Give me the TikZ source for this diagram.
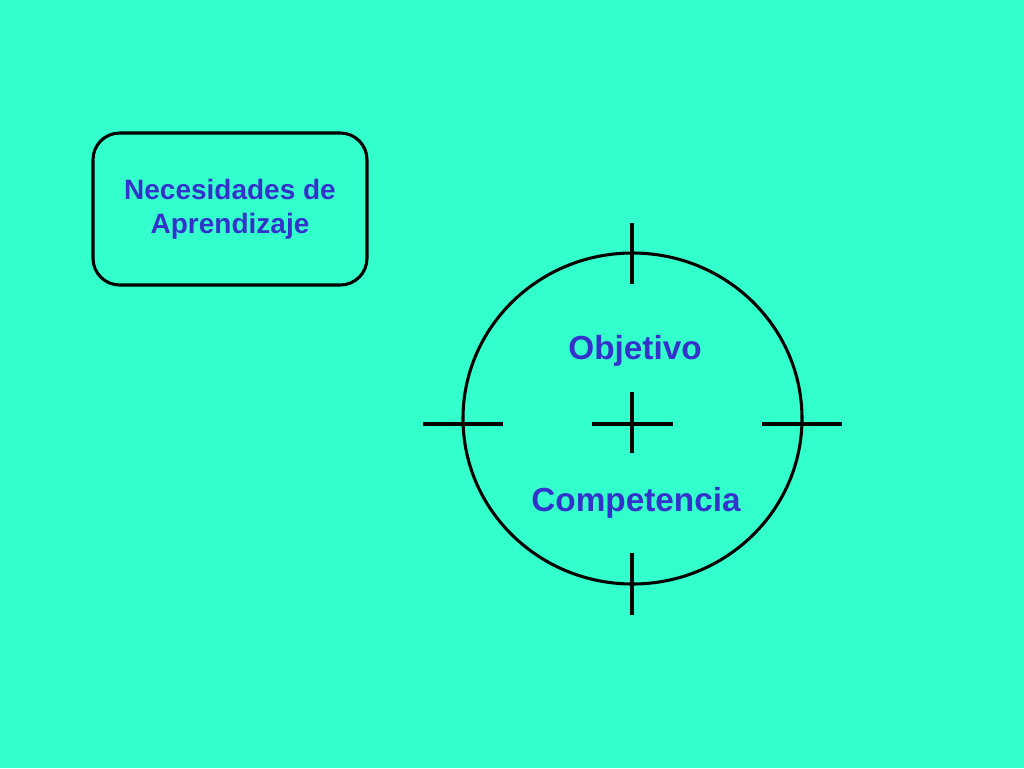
\documentclass[tikz,border=0pt]{standalone}
\usepackage{fontspec}
\setmainfont{Liberation Sans}
\usetikzlibrary{shapes.geometric}
\definecolor{bg}{HTML}{33FFCC}
\definecolor{txt}{HTML}{3333CC}
\begin{document}
\begin{tikzpicture}[x=0.75pt,y=-0.75pt,
  line/.style={line width=2.3pt,black},
  label/.style={text=txt,font=\bfseries,align=center,inner sep=0pt}]
\useasboundingbox[fill=bg] (0,0) rectangle (1024,768);
\node[draw,line width=2.3pt,rounded corners=20pt,minimum width=274*0.75pt,minimum height=152*0.75pt,
  label,font=\fontsize{21}{25.5}\selectfont\bfseries] (nec) at (230,209) {Necesidades de\\Aprendizaje};
\node[draw,line,ellipse,minimum width=339*0.75pt,minimum height=331*0.75pt,inner sep=0pt] (circ) at (632.5,418.5) {};
\node[label,font=\fontsize{25}{30}\selectfont\bfseries] (obj) at (635,351) {Objetivo};
\node[label,font=\fontsize{25}{30}\selectfont\bfseries] (comp) at (636,503) {Competencia};
\coordinate (t1) at (632,223); \coordinate (t2) at (632,284);
\coordinate (b1) at (632,553); \coordinate (b2) at (632,615);
\coordinate (l1) at (423,424); \coordinate (l2) at (503,424);
\coordinate (r1) at (762,424); \coordinate (r2) at (842,424);
\coordinate (ch1) at (592,424); \coordinate (ch2) at (673,424);
\coordinate (cv1) at (632,392); \coordinate (cv2) at (632,453);
\draw[line] (t1) -- (t2);
\draw[line] (b1) -- (b2);
\draw[line] (l1) -- (l2);
\draw[line] (r1) -- (r2);
\draw[line] (ch1) -- (ch2);
\draw[line] (cv1) -- (cv2);
\end{tikzpicture}
\end{document}
